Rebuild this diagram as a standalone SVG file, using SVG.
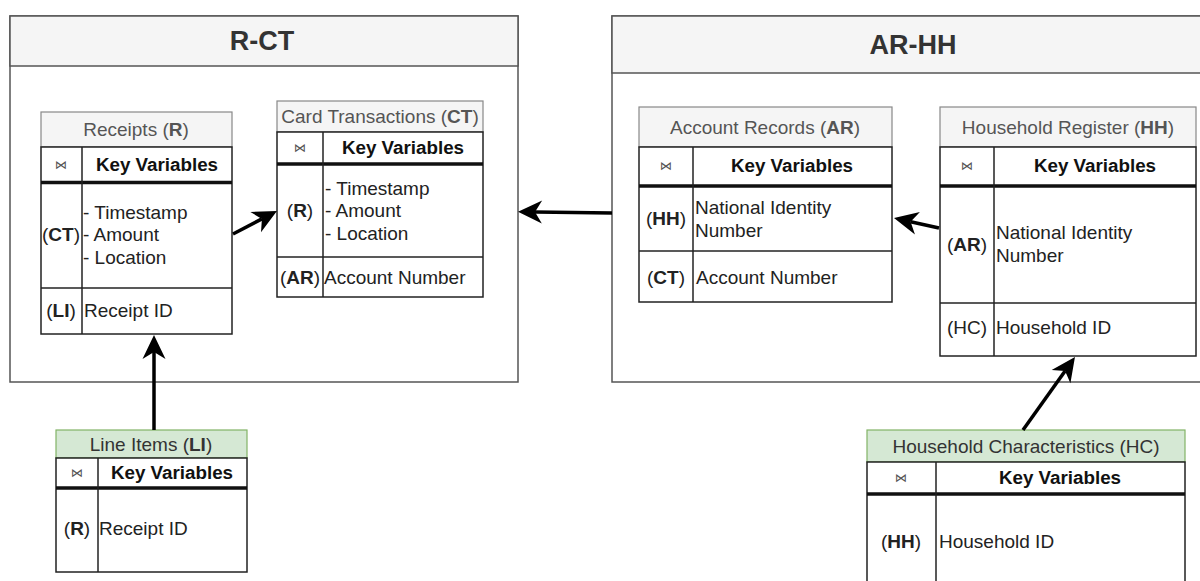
<svg xmlns="http://www.w3.org/2000/svg" width="1200" height="581" viewBox="0 0 1200 581">
<defs>
<style>
text{font-family:"Liberation Sans",Arial,Helvetica,sans-serif;}
.cbody{fill:#fff;stroke:#555;stroke-width:1.5}
.chead{fill:#f5f5f5;stroke:#555;stroke-width:1.5}
.ctitle{font-size:27px;font-weight:bold;fill:#333;text-anchor:middle}
.ttl{fill:#f5f5f5;stroke:#888;stroke-width:1.2}
.grn{fill:#d5e8d4;stroke:#82b366;stroke-width:1.2}
.body{fill:#fff;stroke:#222;stroke-width:1.5}
.ln{stroke:#222;stroke-width:1.5;fill:none}
.thick{stroke:#111;stroke-width:3.5;fill:none}
.tt{font-size:19px;fill:#555;text-anchor:middle}
.gt{font-size:19px;fill:#333;text-anchor:middle}
.kv{font-size:18.8px;font-weight:bold;fill:#111;text-anchor:middle}
.ic{font-family:"DejaVu Sans",sans-serif;font-size:12px;fill:#555;text-anchor:middle}
.tx{font-size:19px;fill:#222}
.lb{font-size:19px;fill:#222;text-anchor:middle}
.b{font-weight:bold}
.conn{stroke:#000;stroke-width:3.5;fill:none;marker-end:url(#arr)}
</style>
<marker id="arr" viewBox="-25 -12 27 24" refX="-17" refY="0" markerWidth="27" markerHeight="24" markerUnits="userSpaceOnUse" orient="auto">
<path d="M0,0 L-24,-11.5 L-17,0 L-24,11.5 Z" fill="#000"/>
</marker>
</defs>
<rect width="1200" height="581" fill="#fff"/>

<g id="container-rct">
<rect class="cbody" x="10" y="16" width="508" height="366"/>
<rect class="chead" x="10" y="16" width="508" height="50"/>
<text class="ctitle" x="262" y="50">R-CT</text>
</g>

<g id="container-arhh">
<rect class="cbody" x="612" y="16" width="600" height="366"/>
<rect class="chead" x="612" y="16" width="600" height="57"/>
<text class="ctitle" x="913" y="54">AR-HH</text>
</g>

<g id="receipts">
<rect class="ttl" x="41" y="112" width="191" height="35"/>
<rect class="body" x="41" y="147" width="191" height="187"/>
<line class="thick" x1="41" y1="182.5" x2="232" y2="182.5"/>
<line class="ln" x1="41" y1="288" x2="232" y2="288"/>
<line class="ln" x1="82" y1="147" x2="82" y2="334"/>
<text class="tt" x="136" y="136">Receipts (<tspan class="b">R</tspan>)</text>
<text class="ic" x="61" y="169">⋈</text>
<text class="kv" x="157" y="171">Key Variables</text>
<text class="lb" x="61" y="241">(<tspan class="b">CT</tspan>)</text>
<text class="tx" x="83" y="219">- Timestamp</text>
<text class="tx" x="83" y="241">- Amount</text>
<text class="tx" x="83" y="264">- Location</text>
<text class="lb" x="61" y="317">(<tspan class="b">LI</tspan>)</text>
<text class="tx" x="84" y="317">Receipt ID</text>
</g>

<g id="card-transactions">
<rect class="ttl" x="277" y="101" width="206" height="31"/>
<rect class="body" x="277" y="132" width="206" height="165"/>
<line class="thick" x1="277" y1="164" x2="483" y2="164"/>
<line class="ln" x1="277" y1="257" x2="483" y2="257"/>
<line class="ln" x1="323" y1="132" x2="323" y2="297"/>
<text class="tt" x="380" y="123">Card Transactions (<tspan class="b">CT</tspan>)</text>
<text class="ic" x="300" y="152">⋈</text>
<text class="kv" x="403" y="154">Key Variables</text>
<text class="lb" x="300" y="217">(<tspan class="b">R</tspan>)</text>
<text class="tx" x="325" y="195">- Timestamp</text>
<text class="tx" x="325" y="217">- Amount</text>
<text class="tx" x="325" y="240">- Location</text>
<text class="lb" x="300" y="284">(<tspan class="b">AR</tspan>)</text>
<text class="tx" x="324" y="284">Account Number</text>
</g>

<g id="account-records">
<rect class="ttl" x="639" y="107" width="253" height="40"/>
<rect class="body" x="639" y="147" width="253" height="155"/>
<line class="thick" x1="639" y1="186" x2="892" y2="186"/>
<line class="ln" x1="639" y1="251" x2="892" y2="251"/>
<line class="ln" x1="693" y1="147" x2="693" y2="302"/>
<text class="tt" x="765" y="134">Account Records (<tspan class="b">AR</tspan>)</text>
<text class="ic" x="666" y="170">⋈</text>
<text class="kv" x="792" y="172">Key Variables</text>
<text class="lb" x="666" y="225">(<tspan class="b">HH</tspan>)</text>
<text class="tx" x="695" y="214">National Identity</text>
<text class="tx" x="695" y="237">Number</text>
<text class="lb" x="666" y="284">(<tspan class="b">CT</tspan>)</text>
<text class="tx" x="696" y="284">Account Number</text>
</g>

<g id="household-register">
<rect class="ttl" x="940" y="107" width="256" height="40"/>
<rect class="body" x="940" y="147" width="256" height="209"/>
<line class="thick" x1="940" y1="186" x2="1196" y2="186"/>
<line class="ln" x1="940" y1="303" x2="1196" y2="303"/>
<line class="ln" x1="994" y1="147" x2="994" y2="356"/>
<text class="tt" x="1068" y="134">Household Register (<tspan class="b">HH</tspan>)</text>
<text class="ic" x="967" y="170">⋈</text>
<text class="kv" x="1095" y="172">Key Variables</text>
<text class="lb" x="967" y="251">(<tspan class="b">AR</tspan>)</text>
<text class="tx" x="996" y="239">National Identity</text>
<text class="tx" x="996" y="262">Number</text>
<text class="lb" x="967" y="334">(HC)</text>
<text class="tx" x="996" y="334">Household ID</text>
</g>

<g id="line-items">
<rect class="grn" x="56" y="430" width="191" height="28"/>
<rect class="body" x="56" y="458" width="191" height="114"/>
<line class="thick" x1="56" y1="488" x2="247" y2="488"/>
<line class="ln" x1="98" y1="458" x2="98" y2="572"/>
<text class="gt" x="151" y="451">Line Items (<tspan class="b">LI</tspan>)</text>
<text class="ic" x="77" y="477">⋈</text>
<text class="kv" x="172" y="479">Key Variables</text>
<text class="lb" x="77" y="535">(<tspan class="b">R</tspan>)</text>
<text class="tx" x="99" y="535">Receipt ID</text>
</g>

<g id="household-characteristics">
<rect class="grn" x="867" y="430" width="318" height="32"/>
<rect class="body" x="867" y="462" width="318" height="130"/>
<line class="thick" x1="867" y1="494" x2="1185" y2="494"/>
<line class="ln" x1="936" y1="462" x2="936" y2="592"/>
<text class="gt" x="1026" y="453">Household Characteristics (HC)</text>
<text class="ic" x="901" y="482">⋈</text>
<text class="kv" x="1060" y="484">Key Variables</text>
<text class="lb" x="901" y="548">(<tspan class="b">HH</tspan>)</text>
<text class="tx" x="939" y="548">Household ID</text>
</g>

<g id="connectors">
<line class="conn" x1="233" y1="234" x2="261.9" y2="218.9"/>
<line class="conn" x1="612" y1="213" x2="535" y2="212"/>
<line class="conn" x1="939" y1="228" x2="910.6" y2="221.7"/>
<line class="conn" x1="154" y1="430" x2="154" y2="352"/>
<line class="conn" x1="1023" y1="430" x2="1065.1" y2="370.9"/>
</g>
</svg>
